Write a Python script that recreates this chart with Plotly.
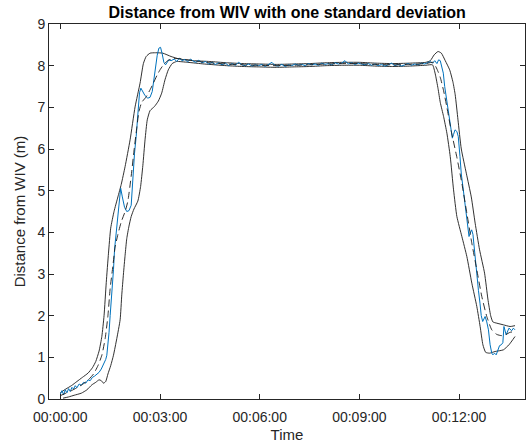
import plotly.graph_objects as go

# Time in seconds, distance in metres
t_mean = [0, 10, 20, 30, 40, 50, 60, 68, 75, 81, 86, 90, 95, 99, 104, 110, 117, 122, 128, 133, 138, 142, 147,
          155, 162, 168, 175, 181, 188, 195, 205, 215, 230, 250, 270, 300, 330, 360, 390, 420, 450, 480, 510,
          540, 570, 600, 630, 660, 673, 680, 686, 692, 698, 706, 716, 725, 734, 743, 752, 761, 770, 779, 788,
          797, 805, 812, 821]
mean = [0.08, 0.14, 0.2, 0.27, 0.35, 0.45, 0.6, 0.8, 1.05, 1.45, 2.0, 2.65, 3.2, 3.65, 3.95, 4.25, 4.5, 4.75,
        5.35, 5.95, 6.5, 6.9, 7.12, 7.25, 7.42, 7.58, 7.78, 7.92, 8.05, 8.13, 8.17, 8.17, 8.14, 8.1, 8.07, 8.04,
        8.02, 8.01, 8.0, 8.01, 8.02, 8.04, 8.05, 8.05, 8.03, 8.02, 8.03, 8.05, 8.08, 7.92, 7.72, 7.4, 7.0, 6.42,
        5.8, 5.18, 4.46, 3.74, 3.1, 2.46, 1.98, 1.66, 1.55, 1.52, 1.55, 1.6, 1.62]

t_upper = [0, 10, 20, 30, 40, 50, 58, 64, 70, 75, 79, 83, 87, 91, 97, 104, 110, 117, 126, 135, 144, 150, 155,
           162, 172, 185, 200, 215, 240, 270, 300, 330, 360, 390, 420, 450, 480, 510, 540, 570, 600, 630, 660,
           668, 675, 682, 688, 695, 703, 709, 713, 718, 724, 733, 742, 749, 757, 766, 772, 777, 781, 788, 800,
           812, 821]
upper = [0.15, 0.24, 0.32, 0.42, 0.52, 0.62, 0.75, 0.9, 1.15, 1.5, 2.0, 2.8, 3.5, 4.1, 4.5, 4.85, 5.15, 5.58,
         6.22, 7.01, 7.58, 8.05, 8.22, 8.3, 8.31, 8.3, 8.22, 8.16, 8.12, 8.1, 8.07, 8.05, 8.04, 8.03, 8.04,
         8.05, 8.07, 8.08, 8.08, 8.06, 8.05, 8.06, 8.08, 8.12, 8.26, 8.34, 8.3, 8.12, 7.9, 7.6, 7.3, 6.7, 6.0,
         5.42, 4.85, 4.22, 3.58, 3.02, 2.4, 2.0, 1.85, 1.82, 1.78, 1.74, 1.76]

t_lower = [5, 15, 25, 38, 48, 57, 64, 70, 74, 78, 82, 86, 91, 96, 102, 108, 111, 114, 117, 120, 124, 128, 133,
           140, 145, 149, 153, 157, 162, 170, 177, 183, 189, 195, 202, 210, 230, 260, 300, 330, 360, 390, 420,
           450, 480, 510, 540, 570, 600, 630, 660, 672, 677, 682, 686, 692, 698, 704, 710, 716, 725, 734, 743,
           752, 758, 763, 768, 775, 785, 800, 810, 821]
lower = [0.02, 0.05, 0.09, 0.14, 0.22, 0.34, 0.4, 0.46, 0.44, 0.38, 0.42, 0.6, 0.8, 1.05, 1.45, 1.9, 2.5, 3.0,
         3.45, 3.85, 4.15, 4.38, 4.56, 4.75, 5.1, 5.6, 6.22, 6.7, 6.92, 7.02, 7.15, 7.34, 7.66, 7.9, 8.05, 8.1,
         8.08, 8.04, 8.0, 7.98, 7.97, 7.96, 7.97, 7.98, 8.0, 8.01, 8.01, 7.99, 7.98, 7.99, 8.01, 8.02, 7.8,
         7.45, 7.12, 6.78, 6.38, 5.82, 5.02, 4.38, 3.9, 3.42, 2.78, 2.22, 1.74, 1.3, 1.12, 1.1, 1.14, 1.18, 1.3,
         1.5]

t_sample = [0, 3, 6, 9, 12, 15, 18, 21, 24, 27, 30, 34, 38, 42, 46, 50, 54, 58, 62, 66, 70, 74, 77, 80, 82, 84,
            86, 88, 90, 92, 94, 96, 98, 100, 103, 106, 109, 112, 116, 120, 124, 128, 131, 134, 137, 139, 141,
            143, 145.5, 149, 153, 158, 162, 166, 169, 172, 175, 178, 181, 184, 187, 190, 193, 196,
            200, 206, 210, 215, 220, 225, 230, 235, 240, 245, 250, 256, 262, 268, 274, 280, 286, 292, 298, 304,
            310, 316, 322, 328, 334, 340, 346, 352, 358, 364, 370, 376, 382, 388, 394, 400, 406, 412, 418, 424,
            430, 436, 442, 448, 454, 460, 466, 472, 478, 484, 490, 496, 502, 508, 514, 520, 526, 532, 538, 544,
            550, 556, 562, 568, 574, 580, 586, 592, 598, 604, 610, 616, 622, 628, 634, 640, 646, 652, 658, 664,
            668, 672, 676, 680, 683, 686, 688, 691.5, 694, 697.6, 700, 703.6, 707.8, 710, 712.6, 716, 718.5,
            721.6, 724, 727.6, 731, 733.7, 736, 737.9, 740, 742.7, 745, 748, 751.8, 755, 757.7, 760, 762.6, 765,
            767, 770, 773, 776, 779, 781, 784, 787, 790, 793, 796, 799, 801, 805, 810, 815, 818, 821]
sample = [0.12, 0.2, 0.1, 0.22, 0.15, 0.25, 0.18, 0.28, 0.24, 0.32, 0.27, 0.36, 0.33, 0.4, 0.38, 0.46, 0.44,
          0.52, 0.55, 0.6, 0.64, 0.72, 0.8, 0.88, 0.95, 1.05, 1.3, 1.6, 2.0, 2.3, 2.7, 3.1, 3.6, 3.9, 4.3, 4.7,
          5.06, 4.85, 4.6, 4.5, 4.52, 4.65, 5.3, 5.9, 6.3, 6.7, 7.05, 7.35, 7.46, 7.38, 7.28, 7.22, 7.24, 7.38,
          7.7, 8.05, 8.25, 8.42, 8.44, 8.28, 8.08, 8.02, 8.1, 8.14,
          8.12, 8.16, 8.1, 8.18, 8.12, 8.15, 8.09, 8.16, 8.11, 8.08, 8.13, 8.07, 8.1, 8.04, 8.08, 8.03, 8.07,
          8.02, 8.06, 8.0, 8.05, 8.01, 8.08, 8.02, 8.0, 8.04, 7.99, 8.02, 8.0, 8.03, 7.98, 8.02, 8.08, 8.0, 7.99,
          8.03, 7.98, 8.02, 8.0, 8.04, 8.01, 8.03, 8.0, 8.05, 8.02, 8.04, 8.01, 8.06, 8.03, 8.05, 8.02, 8.07,
          8.04, 8.06, 8.12, 8.04, 8.07, 8.03, 8.06, 8.04, 8.02, 8.05, 8.01, 8.04, 8.0, 8.03, 7.99, 8.02, 8.06,
          8.0, 8.03, 7.99, 8.02, 8.05, 8.01, 8.04, 8.02, 8.06, 8.04, 8.08,
          8.1, 8.06, 8.12, 8.05, 8.14, 8.12, 8.0, 7.82, 7.5, 7.18, 6.9, 6.54, 6.26, 6.35, 6.46, 6.42, 6.3,
          5.82, 5.4, 5.02, 4.6, 4.3, 4.0, 3.9, 3.98, 4.06, 3.95, 3.5, 3.02, 2.6, 2.3, 2.0, 1.86, 1.92, 1.98,
          1.85, 1.66, 1.3, 1.1, 1.06, 1.1, 1.06, 1.15, 1.28, 1.3, 1.35, 1.74, 1.54, 1.7, 1.64, 1.7, 1.66]

tick_vals = [0, 180, 360, 540, 720]
tick_text = ["00:00:00", "00:03:00", "00:06:00", "00:09:00", "00:12:00"]

AX = "#262626"
LINE = "#1a1a1a"
FONT = "Liberation Sans, Arial, sans-serif"

fig = go.Figure()
fig.add_trace(go.Scatter(x=t_upper, y=upper, mode="lines",
                         line=dict(color=LINE, width=0.9, shape="spline", smoothing=0.5)))
fig.add_trace(go.Scatter(x=t_lower, y=lower, mode="lines",
                         line=dict(color=LINE, width=0.9, shape="spline", smoothing=0.5)))
fig.add_trace(go.Scatter(x=t_sample, y=sample, mode="lines",
                         line=dict(color="#0072BD", width=1)))
fig.add_trace(go.Scatter(x=t_mean, y=mean, mode="lines",
                         line=dict(color=LINE, width=0.9, dash="7px,4px", shape="spline", smoothing=0.5)))

axis_common = dict(showline=True, linecolor=AX, linewidth=1, mirror="ticks", ticks="inside",
                   ticklen=5, tickcolor=AX, tickwidth=1, showgrid=False, zeroline=False,
                   tickfont=dict(family=FONT, size=14, color=AX))

fig.update_layout(
    width=526, height=448,
    margin=dict(l=49, r=1, t=24, b=49),
    paper_bgcolor="white", plot_bgcolor="white",
    showlegend=False,
    font=dict(family=FONT, color=AX),
    title=dict(text="<b>Distance from WIV with one standard deviation</b>",
               font=dict(family=FONT, size=16, color="black"),
               x=0.546, xanchor="center", y=1 - 12 / 448, yanchor="middle", yref="container"),
    xaxis=dict(range=[-20.4, 839], tickvals=tick_vals, ticktext=tick_text, ticklabelstandoff=5,
               title=dict(text="Time", font=dict(family=FONT, size=15, color=AX), standoff=5),
               **axis_common),
    yaxis=dict(range=[0, 9], dtick=1, tick0=0,
               title=dict(text="Distance from WIV (m)", font=dict(family=FONT, size=15, color=AX), standoff=8),
               **axis_common),
)

fig.write_html("out.html")
